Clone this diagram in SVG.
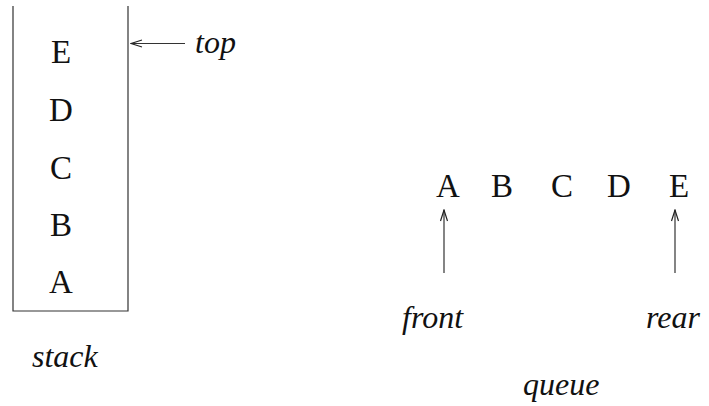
<svg xmlns="http://www.w3.org/2000/svg" width="709" height="406" viewBox="0 0 709 406">
<style>
.l{font-family:"Liberation Serif","Times New Roman","DejaVu Serif",serif;font-size:33px;fill:#111;text-anchor:middle}
.i{font-family:"Liberation Serif","Times New Roman","DejaVu Serif",serif;font-size:32px;font-style:italic;fill:#111}
.ln{stroke:#333;stroke-width:1.2;fill:none}
</style>
<defs>
<marker id="ah" markerUnits="userSpaceOnUse" markerWidth="13" markerHeight="10" viewBox="-12 -5 13 10" refX="0" refY="0" orient="auto">
<path d="M-11,-3.5 L0,0 L-11,3.5" fill="none" stroke="#222" stroke-width="1.2"/>
</marker>
</defs>
<rect width="709" height="406" fill="#fff"/>
<g id="stack">
<path class="ln" d="M13,6 V311 H128 V6"/>
<text class="l" x="61" y="63">E</text>
<text class="l" x="61" y="121">D</text>
<text class="l" x="61" y="179">C</text>
<text class="l" x="61" y="236">B</text>
<text class="l" x="61" y="293">A</text>
<text class="i" x="32" y="367">stack</text>
</g>
<g id="top-label"><text class="i" x="195" y="53">top</text></g>
<g id="queue">
<text class="l" x="448" y="197">A</text>
<text class="l" x="502" y="197">B</text>
<text class="l" x="562" y="197">C</text>
<text class="l" x="619" y="197">D</text>
<text class="l" x="679" y="197">E</text>
<text class="i" x="523" y="395">queue</text>
</g>
<g id="front-label"><text class="i" x="402" y="328">front</text></g>
<g id="rear-label"><text class="i" x="646" y="328">rear</text></g>
<g id="connectors">
<line class="ln" x1="185" y1="43.5" x2="131" y2="43.5" marker-end="url(#ah)"/>
<line class="ln" x1="444" y1="273" x2="444" y2="210" marker-end="url(#ah)"/>
<line class="ln" x1="675" y1="273" x2="675" y2="210" marker-end="url(#ah)"/>
</g>
</svg>
